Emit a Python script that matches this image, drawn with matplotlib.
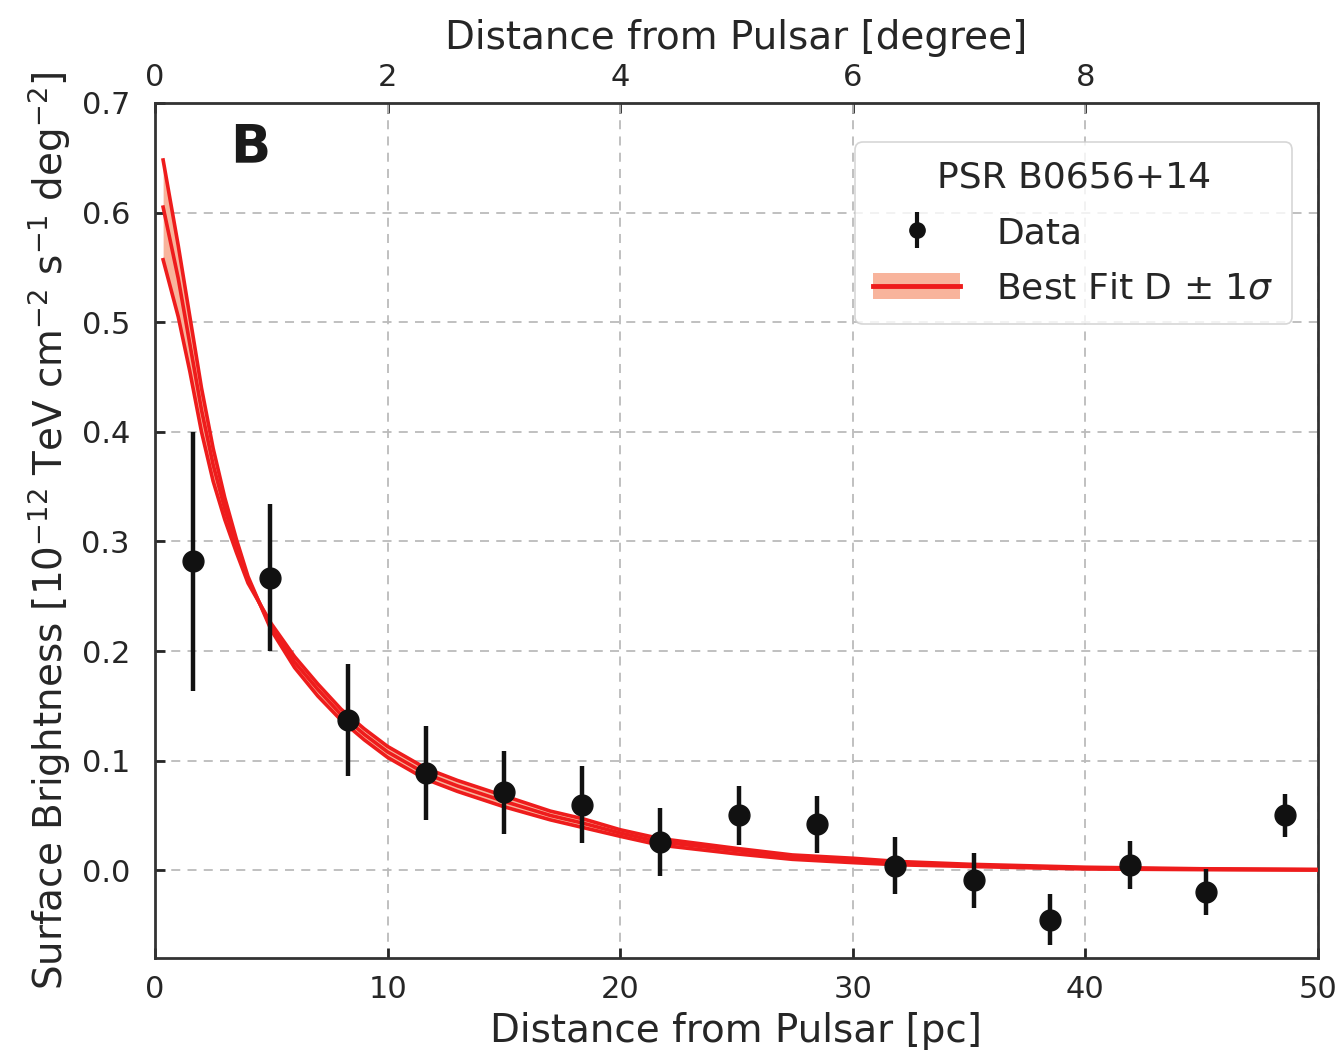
import numpy as np
import matplotlib
matplotlib.use("Agg")
import matplotlib.pyplot as plt
from matplotlib.patches import Patch
from matplotlib.lines import Line2D

# ---- data ----
data_x = [1.63, 4.94, 8.30, 11.65, 15.0, 18.36, 21.7, 25.1, 28.46, 31.8, 35.2, 38.5, 41.9, 45.2, 48.6]
data_y = [0.282, 0.267, 0.137, 0.0885, 0.071, 0.060, 0.026, 0.050, 0.042, 0.004, -0.009, -0.045, 0.005, -0.020, 0.050]
data_err = [0.118, 0.067, 0.051, 0.043, 0.038, 0.035, 0.031, 0.027, 0.026, 0.026, 0.025, 0.023, 0.022, 0.021, 0.020]

fit_x = [0.35, 1.0, 1.5, 2.0, 2.5, 3.0, 3.5, 4.0, 5.0, 6.0, 7.0, 8.0, 9.0, 10.0, 11.65, 13.0,
         15.0, 17.0, 18.4, 20.0, 21.7, 25.0, 27.4, 30.0, 32.0, 35.0, 40.0, 45.0, 50.0]
fit_best = [0.605, 0.54, 0.48, 0.42, 0.37, 0.33, 0.296, 0.265, 0.222, 0.19, 0.165, 0.142, 0.124, 0.108,
            0.088, 0.077, 0.063, 0.050, 0.043, 0.034, 0.026, 0.018, 0.012, 0.009, 0.0065, 0.0045, 0.002, 0.001, 0.0005]
fit_lo_D = [0.648, 0.57, 0.505, 0.44, 0.385, 0.34, 0.302, 0.268, 0.219, 0.185, 0.159, 0.137, 0.119, 0.103,
            0.083, 0.072, 0.058, 0.046, 0.039, 0.031, 0.023, 0.015, 0.010, 0.007, 0.005, 0.0035, 0.0012, 0.0006, 0.0002]
fit_hi_D = [0.557, 0.505, 0.455, 0.40, 0.355, 0.32, 0.29, 0.262, 0.225, 0.195, 0.170, 0.147, 0.129, 0.113,
            0.093, 0.082, 0.068, 0.054, 0.047, 0.037, 0.029, 0.020, 0.014, 0.011, 0.008, 0.0055, 0.0028, 0.0014, 0.0008]

PC_PER_DEG = 5.0
x_ticks = [0, 10, 20, 30, 40, 50]
y_ticks = [0.0, 0.1, 0.2, 0.3, 0.4, 0.5, 0.6, 0.7]
deg_ticks = [0, 2, 4, 6, 8]

TXT = '#262626'
RED = '#ee1c1c'
SALMON = '#f8b49c'

plt.rcParams['font.family'] = ['DejaVu Sans']
fig = plt.figure(figsize=(13.36, 10.51), dpi=100)
ax = fig.add_axes([0.116, 0.0885, 0.8705, 0.8135])

lo = np.minimum(np.minimum(fit_best, fit_lo_D), fit_hi_D)
hi = np.maximum(np.maximum(fit_best, fit_lo_D), fit_hi_D)
ax.fill_between(fit_x, lo, hi, color=SALMON, lw=0, zorder=2)
for ys in (fit_lo_D, fit_best, fit_hi_D):
    ax.plot(fit_x, ys, color=RED, lw=2.6, zorder=3)

ax.errorbar(data_x, data_y, yerr=data_err, fmt='o', color='#111111', ms=15,
            elinewidth=3.2, capsize=0, zorder=4)

ax.set_xlim(0, 50)
ax.set_ylim(-0.08, 0.7)
ax.set_xticks(x_ticks)
ax.set_yticks(y_ticks)
ax.set_yticklabels([f"{v:.1f}" for v in y_ticks])
ax.grid(True, ls=(0, (5, 4)), color='#bbbbbb', lw=1.3, zorder=0)
ax.tick_params(axis='x', direction='in', length=7, width=2, colors=TXT, labelsize=22, pad=12)
ax.tick_params(axis='y', direction='in', length=7, width=2, colors=TXT, labelsize=22, pad=18)
for s in ax.spines.values():
    s.set_color('#333333')
    s.set_linewidth(2)

ax.set_xlabel('Distance from Pulsar [pc]', fontsize=28, color=TXT, labelpad=6)
ax.set_ylabel(r'Surface Brightness [$10^{-12}$ TeV cm$^{-2}$ s$^{-1}$ deg$^{-2}$]',
              fontsize=28, color=TXT, labelpad=6)

sec = ax.secondary_xaxis('top', functions=(lambda x: x / PC_PER_DEG, lambda d: d * PC_PER_DEG))
sec.set_xticks(deg_ticks)
sec.tick_params(direction='in', length=7, width=2, colors=TXT, labelsize=22, pad=8)
sec.set_xlabel('Distance from Pulsar [degree]', fontsize=28, color=TXT, labelpad=10)

ax.text(0.065, 0.978, 'B', transform=ax.transAxes, fontsize=38, fontweight='bold',
        color='#1a1a1a', ha='left', va='top')

eb = ax.errorbar([], [], yerr=[], fmt='o', color='#111111', ms=11, elinewidth=3, capsize=0)
h_fit = (Patch(facecolor=SALMON, edgecolor='none'), Line2D([], [], color=RED, lw=3.5))
leg = ax.legend([eb, h_fit], ['Data', r'Best Fit D $\pm$ 1$\sigma$'],
                title='PSR B0656+14', fontsize=26, title_fontsize=26,
                loc='upper right', bbox_to_anchor=(0.9777, 0.954), borderaxespad=0,
                frameon=True, fancybox=True,
                handlelength=2.4, handletextpad=1.0, borderpad=0.5, labelspacing=0.6)
leg.get_frame().set_edgecolor('#cccccc')
leg.get_frame().set_linewidth(1.2)
for t in leg.get_texts():
    t.set_color(TXT)
leg.get_title().set_color(TXT)

fig.savefig('out.png', dpi=100, facecolor='white')
